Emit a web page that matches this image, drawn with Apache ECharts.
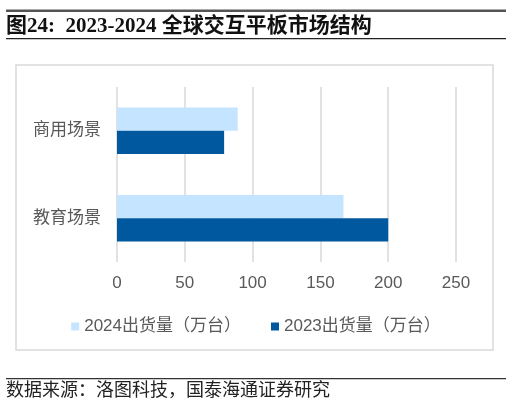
<!DOCTYPE html>
<html><head><meta charset="utf-8">
<script src="https://cdn.jsdelivr.net/npm/echarts@6/dist/echarts.min.js"></script>
<style>html,body{margin:0;padding:0;background:#fff}#c{width:512px;height:405px}</style>
</head><body><div id="c"></div>
<script>
const categories = ['教育场景', '商用场景'];
const s2024 = [167, 89];
const s2023 = [200, 79];
const xTicks = { min: 0, max: 250, interval: 50 };
const seriesNames = ['2024出货量（万台）', '2023出货量（万台）'];
const titleText = '图24:  2023-2024 全球交互平板市场结构';
const sourceText = '数据来源：洛图科技，国泰海通证券研究';

const chart = echarts.init(document.getElementById('c'), null, { renderer: 'canvas' });
const cjk = '"Liberation Sans", "Noto Sans CJK SC", sans-serif';
chart.setOption({
  animation: false,
  backgroundColor: '#fff',
  graphic: [
    { type: 'rect', shape: { x: 6, y: 9.5, width: 500, height: 2.5 }, style: { fill: '#555' } },
    { type: 'text', left: 6, top: 16, style: { text: titleText, font: 'bold 21px "Liberation Serif", "Noto Sans CJK SC", serif', fill: '#111' } },
    { type: 'rect', shape: { x: 6, y: 38, width: 500, height: 1.2 }, style: { fill: '#222' } },
    { type: 'rect', shape: { x: 16, y: 65, width: 477, height: 285 }, style: { fill: 'none', stroke: '#d9d9d9', lineWidth: 1.5 } },
    { type: 'rect', shape: { x: 6, y: 378, width: 500, height: 1.2 }, style: { fill: '#333' } },
    { type: 'text', left: 6, top: 380, style: { text: sourceText, font: '18px "Noto Sans CJK SC", sans-serif', fill: '#222' } }
  ],
  grid: { left: 117, right: 56, top: 87, bottom: 143, containLabel: false },
  legend: {
    data: seriesNames,
    left: 'center', top: 313,
    itemWidth: 8, itemHeight: 8, itemGap: 30,
    icon: 'rect',
    textStyle: { fontSize: 17, color: '#595959', fontFamily: cjk }
  },
  xAxis: {
    type: 'value', min: xTicks.min, max: xTicks.max, interval: xTicks.interval,
    axisLine: { show: false }, axisTick: { show: false },
    splitLine: { lineStyle: { color: '#d9d9d9', width: 1.5 } },
    axisLabel: { margin: 13, fontSize: 17, color: '#595959', fontFamily: cjk }
  },
  yAxis: {
    type: 'category', data: categories,
    axisLine: { show: false }, axisTick: { show: false },
    axisLabel: { margin: 16, fontSize: 17, color: '#595959', fontFamily: cjk }
  },
  series: [
    { name: seriesNames[0], type: 'bar', data: s2024, barGap: '0%', barCategoryGap: '47%', itemStyle: { color: '#C5E4FF' } },
    { name: seriesNames[1], type: 'bar', data: s2023, barGap: '0%', barCategoryGap: '47%', itemStyle: { color: '#00589E' } }
  ]
});
</script></body></html>
